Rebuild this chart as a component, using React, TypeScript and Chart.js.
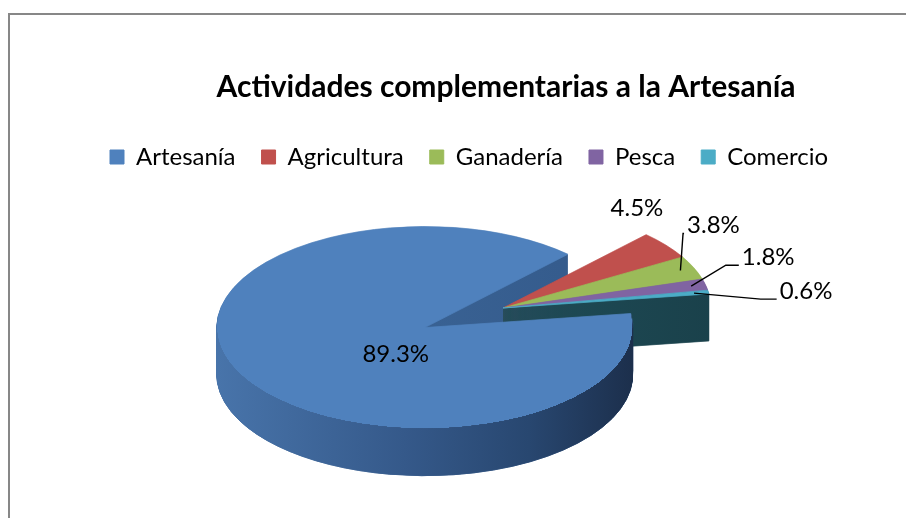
import React, { useEffect, useRef } from 'react';
import { Chart, registerables } from 'chart.js';

Chart.register(...registerables);

// ---- data ----
const categories = ['Artesanía', 'Agricultura', 'Ganadería', 'Pesca', 'Comercio'];
const values = [89.3, 4.5, 3.8, 1.8, 0.6];
const valueLabels = ['89.3%', '4.5%', '3.8%', '1.8%', '0.6%'];
const chartTitle = 'Actividades complementarias a la Artesanía';

// ---- styles ----
const FONT = 'Lato, "Open Sans", sans-serif';
const COLORS = ['#4f81bd', '#c0504d', '#9bbb59', '#8064a2', '#4bacc6'];
const SIDE_COLORS: [number, string][][] = [
  [[0, '#4874aa'], [0.45, '#35598a'], [0.75, '#284770'], [1, '#1c2f4c']],
  [[0, '#9c3936'], [1, '#7a2624']],
  [[0, '#7b9a41'], [1, '#5f7a30']],
  [[0, '#65508a'], [1, '#4c3a6a']],
  [[0, '#235763'], [1, '#1a414b']],
];
const CUT_FACE_COLORS: [number, string][] = [[0, '#3f6a9c'], [1, '#33598a']];
const SQUASH = 0.486;
const DEPTH = 47;
const EXPLODE = [88, 0, 0, 0, 0];
const FRONT_SLICE = 0;
const BACK_SLICES = [1, 2, 3, 4];
const ANCHOR_FRAC = [0, 1, 0.93, 0.93, 0.93];
const LABEL_SHIFT = [[-29, 27], [-29, -37], [33, -45], [77, -29], [112, -2]];
const LEADER = [false, false, true, true, true];
const ELBOW = [0, 0, 0, 12, 15];
const TITLE_X = 506;
const TITLE_BASELINE = 97;

function shade(ctx: any, x: number, r: number, stops: [number, string][]) {
  const g = ctx.createLinearGradient(x - r, 0, x + r, 0);
  stops.forEach(([p, c]) => g.addColorStop(p, c));
  return g;
}

function explodeOf(arc: any, i: number) {
  const mid = (arc.startAngle + arc.endAngle) / 2;
  return { mid, ex: Math.cos(mid) * EXPLODE[i], ey: Math.sin(mid) * EXPLODE[i] };
}

function drawSides(ctx: any, arc: any, i: number, stops: [number, string][]) {
  const x = arc.x, y = arc.y, r = arc.outerRadius;
  const { ex, ey } = explodeOf(arc, i);
  const orig = arc.options;
  const side = shade(ctx, x, r, stops);
  arc.options = { ...orig, backgroundColor: side, borderColor: side, borderWidth: 1, offset: 0 };
  for (let d = DEPTH; d >= 1; d--) {
    ctx.save();
    ctx.translate(x, y + d);
    ctx.scale(1, SQUASH);
    ctx.translate(-x + ex, -y + ey);
    arc.draw(ctx);
    ctx.restore();
  }
  arc.options = orig;
}

function drawTop(ctx: any, arc: any, i: number) {
  const x = arc.x, y = arc.y;
  const { ex, ey } = explodeOf(arc, i);
  ctx.save();
  ctx.translate(x, y);
  ctx.scale(1, SQUASH);
  ctx.translate(-x + ex, -y + ey);
  arc.draw(ctx);
  ctx.restore();
}

const pie3dPlugin = {
  id: 'pie3d',
  beforeDatasetsDraw(chart: any) {
    const ctx = chart.ctx;
    const arcs = chart.getDatasetMeta(0).data;
    const front = arcs[FRONT_SLICE];
    if (!front) return false;
    // cut faces of the big slice (behind the exploded slices)
    drawSides(ctx, front, FRONT_SLICE, CUT_FACE_COLORS);
    // exploded slices
    BACK_SLICES.forEach((i) => {
      if (!arcs[i]) return;
      drawSides(ctx, arcs[i], i, SIDE_COLORS[i]);
      drawTop(ctx, arcs[i], i);
    });
    // big slice top face
    drawTop(ctx, front, FRONT_SLICE);
    // outer rim of the big slice, in front of the exploded slices
    const { ex, ey } = explodeOf(front, FRONT_SLICE);
    const cx = front.x + ex;
    const cy = front.y + ey * SQUASH;
    ctx.save();
    ctx.beginPath();
    ctx.rect(0, 0, chart.width, chart.height);
    ctx.ellipse(cx, cy, front.outerRadius, front.outerRadius * SQUASH, 0, 0, Math.PI * 2);
    ctx.clip('evenodd');
    drawSides(ctx, front, FRONT_SLICE, SIDE_COLORS[FRONT_SLICE]);
    ctx.restore();
    return false;
  },
};

const labelPlugin = {
  id: 'sliceLabels',
  afterDraw(chart: any) {
    const ctx = chart.ctx;
    const arcs = chart.getDatasetMeta(0).data;
    ctx.save();
    ctx.font = `24px ${FONT}`;
    ctx.fillStyle = '#000';
    ctx.strokeStyle = '#000';
    ctx.lineWidth = 1.4;
    ctx.textBaseline = 'middle';
    ctx.textAlign = 'center';
    arcs.forEach((arc: any, i: number) => {
      const { mid, ex, ey } = explodeOf(arc, i);
      const rr = arc.outerRadius * ANCHOR_FRAC[i];
      const ax = arc.x + ex + Math.cos(mid) * rr;
      const ay = arc.y + (ey + Math.sin(mid) * rr) * SQUASH;
      const lx = ax + LABEL_SHIFT[i][0];
      const ly = ay + LABEL_SHIFT[i][1];
      ctx.fillText(valueLabels[i], lx, ly);
      if (LEADER[i]) {
        const w = ctx.measureText(valueLabels[i]).width;
        const left = lx - w / 2;
        ctx.beginPath();
        ctx.moveTo(ax, ay);
        ctx.lineTo(left - 4 - ELBOW[i], ly + 8);
        ctx.lineTo(left - 3, ly + 8);
        ctx.stroke();
      }
    });
    ctx.font = `bold 30px ${FONT}`;
    ctx.textBaseline = 'alphabetic';
    ctx.fillText(chartTitle, TITLE_X, TITLE_BASELINE);
    ctx.restore();
  },
};

export default function App() {
  const ref = useRef<HTMLCanvasElement | null>(null);
  useEffect(() => {
    if (!ref.current) return;
    const chart = new Chart(ref.current, {
      type: 'pie',
      data: {
        labels: categories,
        datasets: [
          {
            data: values,
            backgroundColor: COLORS,
            borderColor: COLORS,
            borderWidth: 1,
          },
        ],
      },
      options: {
        animation: false,
        responsive: false,
        events: [],
        rotation: 82,
        radius: 208,
        layout: { padding: { left: 84, right: 98, top: 119, bottom: 81 } },
        plugins: {
          legend: {
            position: 'top',
            align: 'start',
            labels: {
              boxWidth: 14,
              boxHeight: 14,
              padding: 26,
              color: '#000',
              font: { family: FONT, size: 24 },
            },
          },
          title: { display: false },
          tooltip: { enabled: false },
        },
      } as any,
      plugins: [pie3dPlugin as any, labelPlugin as any],
    });
    return () => chart.destroy();
  }, []);

  return (
    <div style={{ position: 'fixed', left: 0, top: 0, width: 906, height: 518, overflow: 'hidden', background: '#fff' }}>
      <div
        style={{
          position: 'absolute',
          left: 8,
          top: 13,
          width: 1000,
          height: 600,
          borderLeft: '2px solid #878787',
          borderTop: '2px solid #878787',
          boxSizing: 'border-box',
        }}
      />
      <canvas ref={ref} width={1020} height={518} style={{ position: 'absolute', left: 0, top: 0, width: 1020, height: 518 }} />
    </div>
  );
}
